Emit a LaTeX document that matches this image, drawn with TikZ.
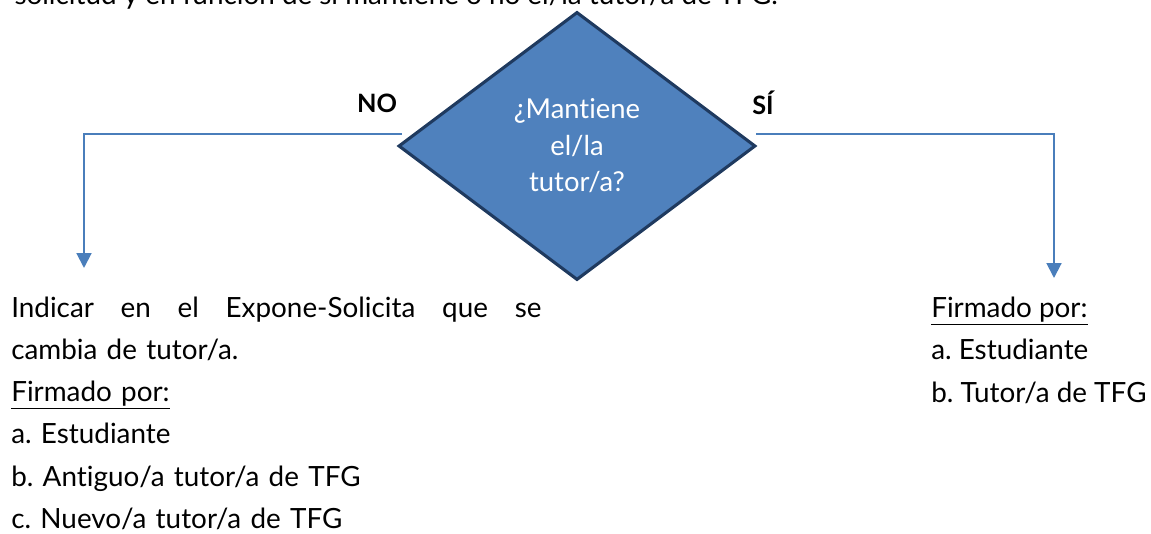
\documentclass[tikz,border=0pt]{standalone}
\usepackage{fontspec}
\setmainfont{Lato}[Ligatures={NoCommon}]
\usetikzlibrary{shapes.geometric,arrows.meta,calc}
\frenchspacing

\definecolor{decfill}{HTML}{4F81BD}
\definecolor{decline}{HTML}{1F3A5F}
\definecolor{flowline}{HTML}{4A7EBB}

\tikzset{
    decision/.style={diamond, draw=decline, line width=2.2pt, fill=decfill,
        minimum width=8.925cm, minimum height=6.7cm, inner sep=0pt,
        text=white, align=center,
        font=\fontsize{19.5}{26}\selectfont},
    answer/.style={font=\fontsize{18}{20}\selectfont\bfseries},
    bodytext/.style={inner sep=0pt, align=left,
        font=\fontsize{19.8}{30.1}\selectfont},
    flow/.style={draw=flowline, line width=1.4pt,
        -{Triangle[length=10.5pt,width=10.5pt]}}
}

\begin{document}
\begin{tikzpicture}[x=0.025cm, y=-0.025cm]

    \useasboundingbox (0, 0) rectangle (1151, 533);

    \node[bodytext, anchor=base east] (intro) at (778, 4)
        {solicitud y en función de si mantiene o no el/la tutor/a de TFG.};

    \node[decision] (dec) at (577, 146) {¿Mantiene\\el/la\\tutor/a?};

    \node[answer] (no) at (377, 103) {NO};
    \node[answer] (si) at (763, 103) {SÍ};

    \coordinate (noend) at (84, 268);
    \coordinate (siend) at (1054, 278);

    \draw[flow] ($(dec.west)+(5, -12)$) -| (noend);
    \draw[flow] ($(dec.east)+(-1, -12)$) -| (siend);

    \node[bodytext, text width=13.25cm, anchor=base west] (notext) at (11, 317)
        {\hbox to 13.25cm{Indicar\hfill en\hfill el\hfill Expone-Solicita\hfill que\hfill se}\\
         cambia de tutor/a.\\
         \underline{Firmado por:}\\
         a. Estudiante\\
         b. Antiguo/a tutor/a de TFG\\
         c. Nuevo/a tutor/a de TFG};

    \node[bodytext, anchor=base west] (sitext) at (931, 402)
        {\underline{Firmado por:}\\
         a. Estudiante\\
         b. Tutor/a de TFG};

\end{tikzpicture}
\end{document}
